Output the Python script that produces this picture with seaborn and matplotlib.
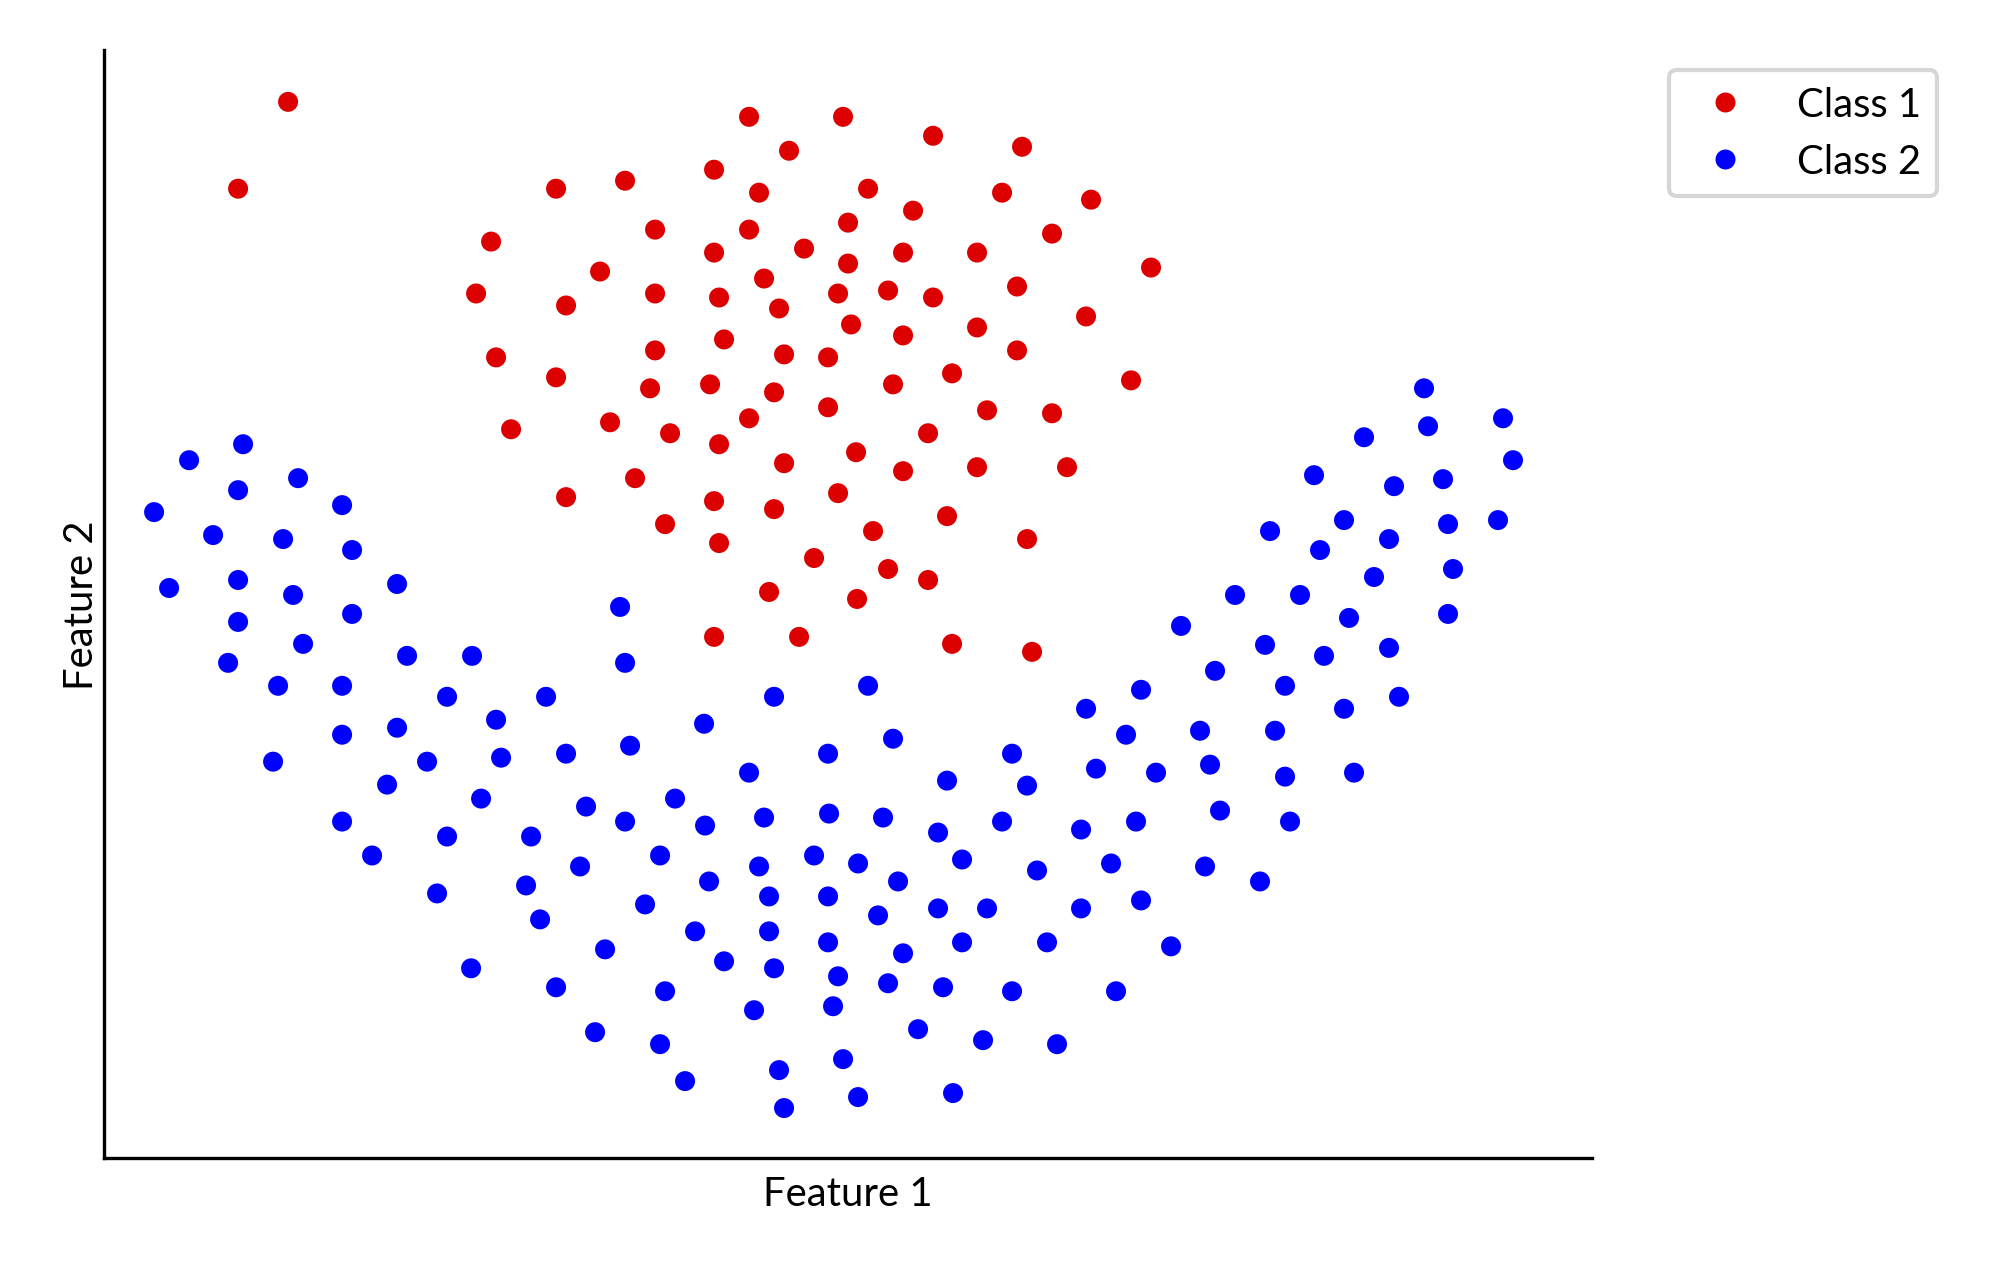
import pandas as pd
import numpy as np
import matplotlib
matplotlib.use("Agg")
import matplotlib.pyplot as plt
import seaborn as sns

# points (arbitrary feature units)
class1_f1 = [184, 134, 372, 645, 739, 685, 610, 452, 521, 655, 744, 387, 551, 645, 610, 700,
             744, 496, 660, 462, 551, 615, 675, 734, 747, 392, 551, 620, 680, 724, 452, 546,
             606, 670, 724, 829, 918, 764, 809, 898, 987, 948, 799, 873, 1047, 784, 829, 913,
             982, 799, 873, 913, 789, 848, 1027, 883, 948, 407, 506, 566, 615, 645, 752, 531,
             680, 462, 610, 670, 734, 561, 615, 710, 665, 753, 610, 695, 824, 799, 873, 963,
             843, 769, 923, 784, 824, 848, 928]
class1_f2 = [1058, 971, 866, 1043, 1043, 1009, 990, 971, 979, 967, 937, 918, 930, 930, 907, 911,
             896, 888, 881, 854, 866, 862, 851, 866, 835, 802, 809, 820, 805, 802, 782, 771,
             775, 767, 752, 1024, 1013, 971, 949, 967, 960, 926, 907, 907, 892, 869, 862, 873,
             843, 824, 832, 809, 775, 786, 779, 749, 746, 730, 737, 726, 715, 741, 707, 681,
             696, 662, 658, 650, 666, 635, 616, 601, 567, 560, 522, 522, 726, 688, 692, 692,
             643, 628, 620, 590, 579, 515, 507]

class2_f1 = [1320, 1324, 1399, 1260, 1409, 1210, 1290, 1339, 1166, 1240, 1285, 1344, 1394, 1216,
             1270, 1349, 1131, 1196, 1245, 1344, 1161, 1220, 1285, 1181, 1240, 1295, 1171, 1181,
             1250, 1077, 1111, 1037, 982, 1022, 1096, 764, 789, 908, 992, 1052, 1106, 843, 923,
             516, 521, 442, 392, 397, 462, 526, 600, 670, 724, 645, 139, 85, 134, 194, 50, 109,
             179, 238, 248, 65, 134, 189, 248, 293, 134, 199, 124, 174, 238, 303, 368, 343, 238,
             293, 169, 323, 283, 377, 238, 343, 427, 268, 333, 422, 436, 367, 482, 521, 571, 601,
             660, 725, 779, 834, 476, 556, 605, 655, 710, 754, 794, 858, 541, 665, 724, 774, 834,
             883, 591, 665, 724, 799, 858, 501, 620, 670, 734, 784, 839, 452, 561, 650, 729, 814,
             879, 491, 556, 581, 675, 739, 754, 849, 680, 898, 977, 1032, 1116, 1186, 933, 1007,
             1101, 1156, 977, 1037, 943, 1067, 908, 1012, 953]
class2_f2 = [771, 733, 741, 722, 699, 684, 673, 680, 628, 639, 620, 635, 639, 609, 582, 590, 564,
             564, 541, 545, 514, 503, 511, 473, 450, 462, 428, 382, 386, 533, 488, 469, 450, 424,
             428, 473, 420, 405, 390, 386, 394, 378, 373, 552, 496, 462, 439, 401, 405, 413, 435,
             462, 405, 386, 715, 699, 669, 681, 647, 624, 620, 654, 609, 571, 579, 564, 545, 575,
             537, 515, 496, 473, 473, 503, 503, 462, 424, 431, 397, 397, 374, 360, 337, 322, 322,
             303, 265, 273, 239, 190, 352, 337, 360, 333, 341, 345, 341, 326, 292, 303, 277, 292,
             303, 295, 277, 299, 254, 262, 262, 243, 250, 250, 227, 227, 216, 205, 216, 209, 197,
             190, 182, 175, 171, 171, 167, 148, 152, 129, 118, 126, 114, 77, 88, 99, 61, 65, 50,
             337, 329, 337, 348, 337, 288, 295, 292, 277, 250, 258, 216, 212, 167, 167, 114]

labels = ["Class 1", "Class 2"]
colors = {"Class 1": "#dc0000", "Class 2": "#0000ff"}

df = pd.DataFrame({
    "f1": class1_f1 + class2_f1,
    "f2": class1_f2 + class2_f2,
    "cls": [labels[0]] * len(class1_f1) + [labels[1]] * len(class2_f1),
})

sns.set_style("white")
plt.rcParams["font.family"] = ["Lato", "DejaVu Sans"]
plt.rcParams["font.size"] = 9.6
plt.rcParams["text.color"] = "black"
plt.rcParams["axes.labelcolor"] = "black"

fig, ax = plt.subplots(figsize=(1994 / 300, 1264 / 300), dpi=300)
fig.subplots_adjust(left=0.0522, right=0.7984, bottom=0.0831, top=0.9597)

sns.scatterplot(data=df, x="f1", y="f2", hue="cls", palette=colors, s=23,
                linewidth=0, ax=ax)

ax.set_xlim(0, 1488)
ax.set_ylim(0, 1110)
ax.set_xticks([])
ax.set_yticks([])
ax.set_xlabel("Feature 1")
ax.set_ylabel("Feature 2", labelpad=1)
sns.despine(ax=ax)
for sp in ["left", "bottom"]:
    ax.spines[sp].set_color("black")
    ax.spines[sp].set_linewidth(0.8)

h, l = ax.get_legend_handles_labels()
ax.legend(h, l, loc="upper left", bbox_to_anchor=(1.038, 1), frameon=True)

fig.savefig("out.png", dpi=300)
